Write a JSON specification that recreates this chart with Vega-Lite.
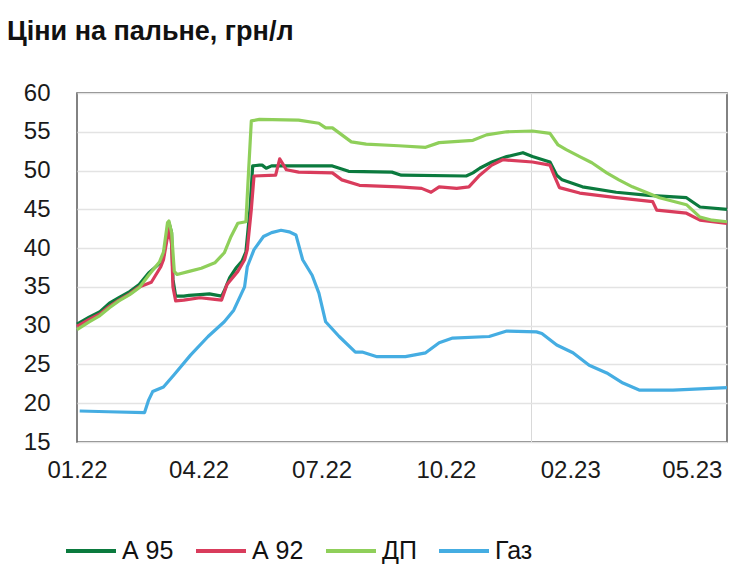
{
  "$schema": "https://vega.github.io/schema/vega-lite/v6.json",
  "description": "Ціни на пальне, грн/л",
  "autosize": {"type": "none"},
  "width": 650,
  "height": 349,
  "padding": {"left": 77, "top": 93, "right": 13, "bottom": 135},
  "background": "white",
  "config": {
    "font": "Liberation Sans",
    "view": {"stroke": "#595959", "strokeWidth": 1.5},
    "axis": {"labelFont": "Liberation Sans", "labelFontSize": 24, "labelColor": "#1a1a1a", "ticks": false, "domain": false, "title": null}
  },
  "title": {
    "text": "Ціни на пальне, грн/л",
    "anchor": "start",
    "frame": "group",
    "font": "Liberation Sans",
    "fontSize": 27,
    "fontWeight": "bold",
    "color": "#111111",
    "baseline": "alphabetic",
    "dx": -70,
    "offset": 14
  },
  "data": {
    "values": [
      {"date": "2022-01-01", "fuel": "А 95", "price": 30.2},
      {"date": "2022-01-10", "fuel": "А 95", "price": 31.1},
      {"date": "2022-01-18", "fuel": "А 95", "price": 31.8},
      {"date": "2022-01-25", "fuel": "А 95", "price": 32.9},
      {"date": "2022-02-01", "fuel": "А 95", "price": 33.6},
      {"date": "2022-02-09", "fuel": "А 95", "price": 34.4},
      {"date": "2022-02-16", "fuel": "А 95", "price": 35.3},
      {"date": "2022-02-23", "fuel": "А 95", "price": 36.8},
      {"date": "2022-03-03", "fuel": "А 95", "price": 38.0},
      {"date": "2022-03-06", "fuel": "А 95", "price": 39.0},
      {"date": "2022-03-09", "fuel": "А 95", "price": 42.0},
      {"date": "2022-03-10", "fuel": "А 95", "price": 43.3},
      {"date": "2022-03-12", "fuel": "А 95", "price": 42.0},
      {"date": "2022-03-13", "fuel": "А 95", "price": 36.0},
      {"date": "2022-03-15", "fuel": "А 95", "price": 33.8},
      {"date": "2022-03-21", "fuel": "А 95", "price": 33.8},
      {"date": "2022-03-25", "fuel": "А 95", "price": 33.9},
      {"date": "2022-04-02", "fuel": "А 95", "price": 34.0},
      {"date": "2022-04-09", "fuel": "А 95", "price": 34.1},
      {"date": "2022-04-18", "fuel": "А 95", "price": 33.8},
      {"date": "2022-04-20", "fuel": "А 95", "price": 34.5},
      {"date": "2022-04-24", "fuel": "А 95", "price": 36.2},
      {"date": "2022-04-29", "fuel": "А 95", "price": 37.5},
      {"date": "2022-05-03", "fuel": "А 95", "price": 38.3},
      {"date": "2022-05-06", "fuel": "А 95", "price": 39.5},
      {"date": "2022-05-09", "fuel": "А 95", "price": 45.0},
      {"date": "2022-05-11", "fuel": "А 95", "price": 50.6},
      {"date": "2022-05-16", "fuel": "А 95", "price": 50.7},
      {"date": "2022-05-18", "fuel": "А 95", "price": 50.7},
      {"date": "2022-05-21", "fuel": "А 95", "price": 50.3},
      {"date": "2022-05-25", "fuel": "А 95", "price": 50.6},
      {"date": "2022-06-07", "fuel": "А 95", "price": 50.6},
      {"date": "2022-06-29", "fuel": "А 95", "price": 50.6},
      {"date": "2022-07-09", "fuel": "А 95", "price": 50.6},
      {"date": "2022-07-21", "fuel": "А 95", "price": 49.9},
      {"date": "2022-08-22", "fuel": "А 95", "price": 49.8},
      {"date": "2022-08-29", "fuel": "А 95", "price": 49.4},
      {"date": "2022-10-16", "fuel": "А 95", "price": 49.3},
      {"date": "2022-10-21", "fuel": "А 95", "price": 49.7},
      {"date": "2022-10-26", "fuel": "А 95", "price": 50.3},
      {"date": "2022-11-04", "fuel": "А 95", "price": 51.1},
      {"date": "2022-11-15", "fuel": "А 95", "price": 51.8},
      {"date": "2022-11-27", "fuel": "А 95", "price": 52.3},
      {"date": "2022-12-04", "fuel": "А 95", "price": 51.8},
      {"date": "2022-12-17", "fuel": "А 95", "price": 51.1},
      {"date": "2022-12-22", "fuel": "А 95", "price": 49.4},
      {"date": "2022-12-26", "fuel": "А 95", "price": 48.8},
      {"date": "2023-01-10", "fuel": "А 95", "price": 47.9},
      {"date": "2023-02-04", "fuel": "А 95", "price": 47.2},
      {"date": "2023-02-28", "fuel": "А 95", "price": 46.8},
      {"date": "2023-03-28", "fuel": "А 95", "price": 46.5},
      {"date": "2023-04-07", "fuel": "А 95", "price": 45.3},
      {"date": "2023-04-27", "fuel": "А 95", "price": 45.0},

      {"date": "2022-01-01", "fuel": "А 92", "price": 29.9},
      {"date": "2022-01-10", "fuel": "А 92", "price": 30.8},
      {"date": "2022-01-18", "fuel": "А 92", "price": 31.5},
      {"date": "2022-01-25", "fuel": "А 92", "price": 32.5},
      {"date": "2022-02-01", "fuel": "А 92", "price": 33.3},
      {"date": "2022-02-09", "fuel": "А 92", "price": 34.1},
      {"date": "2022-02-16", "fuel": "А 92", "price": 35.0},
      {"date": "2022-02-25", "fuel": "А 92", "price": 35.6},
      {"date": "2022-03-04", "fuel": "А 92", "price": 37.6},
      {"date": "2022-03-06", "fuel": "А 92", "price": 38.5},
      {"date": "2022-03-09", "fuel": "А 92", "price": 41.5},
      {"date": "2022-03-10", "fuel": "А 92", "price": 42.5},
      {"date": "2022-03-12", "fuel": "А 92", "price": 40.5},
      {"date": "2022-03-13", "fuel": "А 92", "price": 35.0},
      {"date": "2022-03-15", "fuel": "А 92", "price": 33.2},
      {"date": "2022-03-21", "fuel": "А 92", "price": 33.3},
      {"date": "2022-04-02", "fuel": "А 92", "price": 33.6},
      {"date": "2022-04-13", "fuel": "А 92", "price": 33.4},
      {"date": "2022-04-18", "fuel": "А 92", "price": 33.3},
      {"date": "2022-04-22", "fuel": "А 92", "price": 35.3},
      {"date": "2022-04-30", "fuel": "А 92", "price": 37.0},
      {"date": "2022-05-05", "fuel": "А 92", "price": 38.5},
      {"date": "2022-05-07", "fuel": "А 92", "price": 39.8},
      {"date": "2022-05-10", "fuel": "А 92", "price": 45.0},
      {"date": "2022-05-12", "fuel": "А 92", "price": 49.3},
      {"date": "2022-05-28", "fuel": "А 92", "price": 49.4},
      {"date": "2022-05-31", "fuel": "А 92", "price": 51.5},
      {"date": "2022-06-05", "fuel": "А 92", "price": 50.1},
      {"date": "2022-06-14", "fuel": "А 92", "price": 49.8},
      {"date": "2022-07-09", "fuel": "А 92", "price": 49.7},
      {"date": "2022-07-16", "fuel": "А 92", "price": 48.8},
      {"date": "2022-07-29", "fuel": "А 92", "price": 48.1},
      {"date": "2022-08-27", "fuel": "А 92", "price": 47.9},
      {"date": "2022-09-13", "fuel": "А 92", "price": 47.7},
      {"date": "2022-09-20", "fuel": "А 92", "price": 47.2},
      {"date": "2022-09-26", "fuel": "А 92", "price": 47.9},
      {"date": "2022-10-09", "fuel": "А 92", "price": 47.7},
      {"date": "2022-10-18", "fuel": "А 92", "price": 47.9},
      {"date": "2022-10-26", "fuel": "А 92", "price": 49.4},
      {"date": "2022-11-04", "fuel": "А 92", "price": 50.7},
      {"date": "2022-11-12", "fuel": "А 92", "price": 51.4},
      {"date": "2022-12-04", "fuel": "А 92", "price": 51.1},
      {"date": "2022-12-17", "fuel": "А 92", "price": 50.7},
      {"date": "2022-12-20", "fuel": "А 92", "price": 49.4},
      {"date": "2022-12-24", "fuel": "А 92", "price": 47.8},
      {"date": "2023-01-08", "fuel": "А 92", "price": 47.1},
      {"date": "2023-02-04", "fuel": "А 92", "price": 46.5},
      {"date": "2023-03-03", "fuel": "А 92", "price": 46.0},
      {"date": "2023-03-06", "fuel": "А 92", "price": 44.9},
      {"date": "2023-03-28", "fuel": "А 92", "price": 44.5},
      {"date": "2023-04-07", "fuel": "А 92", "price": 43.6},
      {"date": "2023-04-27", "fuel": "А 92", "price": 43.2},

      {"date": "2022-01-01", "fuel": "ДП", "price": 29.5},
      {"date": "2022-01-10", "fuel": "ДП", "price": 30.5},
      {"date": "2022-01-18", "fuel": "ДП", "price": 31.3},
      {"date": "2022-01-25", "fuel": "ДП", "price": 32.3},
      {"date": "2022-02-01", "fuel": "ДП", "price": 33.2},
      {"date": "2022-02-09", "fuel": "ДП", "price": 34.0},
      {"date": "2022-02-16", "fuel": "ДП", "price": 34.9},
      {"date": "2022-02-23", "fuel": "ДП", "price": 36.5},
      {"date": "2022-03-03", "fuel": "ДП", "price": 38.2},
      {"date": "2022-03-06", "fuel": "ДП", "price": 39.5},
      {"date": "2022-03-09", "fuel": "ДП", "price": 43.3},
      {"date": "2022-03-10", "fuel": "ДП", "price": 43.5},
      {"date": "2022-03-12", "fuel": "ДП", "price": 42.0},
      {"date": "2022-03-14", "fuel": "ДП", "price": 37.0},
      {"date": "2022-03-16", "fuel": "ДП", "price": 36.6},
      {"date": "2022-03-25", "fuel": "ДП", "price": 37.0},
      {"date": "2022-04-03", "fuel": "ДП", "price": 37.4},
      {"date": "2022-04-13", "fuel": "ДП", "price": 38.1},
      {"date": "2022-04-20", "fuel": "ДП", "price": 39.4},
      {"date": "2022-04-25", "fuel": "ДП", "price": 41.5},
      {"date": "2022-04-30", "fuel": "ДП", "price": 43.2},
      {"date": "2022-05-06", "fuel": "ДП", "price": 43.4},
      {"date": "2022-05-08", "fuel": "ДП", "price": 50.0},
      {"date": "2022-05-10", "fuel": "ДП", "price": 56.4},
      {"date": "2022-05-16", "fuel": "ДП", "price": 56.6},
      {"date": "2022-06-14", "fuel": "ДП", "price": 56.5},
      {"date": "2022-06-29", "fuel": "ДП", "price": 56.1},
      {"date": "2022-07-04", "fuel": "ДП", "price": 55.5},
      {"date": "2022-07-09", "fuel": "ДП", "price": 55.5},
      {"date": "2022-07-16", "fuel": "ДП", "price": 54.6},
      {"date": "2022-07-23", "fuel": "ДП", "price": 53.7},
      {"date": "2022-08-03", "fuel": "ДП", "price": 53.4},
      {"date": "2022-08-27", "fuel": "ДП", "price": 53.2},
      {"date": "2022-09-16", "fuel": "ДП", "price": 53.0},
      {"date": "2022-09-26", "fuel": "ДП", "price": 53.6},
      {"date": "2022-10-21", "fuel": "ДП", "price": 53.9},
      {"date": "2022-10-31", "fuel": "ДП", "price": 54.6},
      {"date": "2022-11-15", "fuel": "ДП", "price": 55.0},
      {"date": "2022-12-04", "fuel": "ДП", "price": 55.1},
      {"date": "2022-12-17", "fuel": "ДП", "price": 54.8},
      {"date": "2022-12-23", "fuel": "ДП", "price": 53.3},
      {"date": "2022-12-29", "fuel": "ДП", "price": 52.7},
      {"date": "2023-01-08", "fuel": "ДП", "price": 51.8},
      {"date": "2023-01-17", "fuel": "ДП", "price": 51.0},
      {"date": "2023-01-28", "fuel": "ДП", "price": 49.7},
      {"date": "2023-02-06", "fuel": "ДП", "price": 48.8},
      {"date": "2023-02-16", "fuel": "ДП", "price": 47.9},
      {"date": "2023-02-26", "fuel": "ДП", "price": 47.2},
      {"date": "2023-03-08", "fuel": "ДП", "price": 46.5},
      {"date": "2023-03-28", "fuel": "ДП", "price": 45.6},
      {"date": "2023-04-07", "fuel": "ДП", "price": 44.0},
      {"date": "2023-04-16", "fuel": "ДП", "price": 43.6},
      {"date": "2023-04-27", "fuel": "ДП", "price": 43.4},

      {"date": "2022-01-03", "fuel": "Газ", "price": 19.0},
      {"date": "2022-01-24", "fuel": "Газ", "price": 18.9},
      {"date": "2022-02-20", "fuel": "Газ", "price": 18.8},
      {"date": "2022-02-23", "fuel": "Газ", "price": 20.4},
      {"date": "2022-02-26", "fuel": "Газ", "price": 21.5},
      {"date": "2022-03-06", "fuel": "Газ", "price": 22.1},
      {"date": "2022-03-14", "fuel": "Газ", "price": 23.7},
      {"date": "2022-03-26", "fuel": "Газ", "price": 26.2},
      {"date": "2022-04-08", "fuel": "Газ", "price": 28.6},
      {"date": "2022-04-20", "fuel": "Газ", "price": 30.5},
      {"date": "2022-04-27", "fuel": "Газ", "price": 32.0},
      {"date": "2022-05-05", "fuel": "Газ", "price": 35.0},
      {"date": "2022-05-07", "fuel": "Газ", "price": 37.6},
      {"date": "2022-05-12", "fuel": "Газ", "price": 39.8},
      {"date": "2022-05-19", "fuel": "Газ", "price": 41.5},
      {"date": "2022-05-25", "fuel": "Газ", "price": 42.0},
      {"date": "2022-06-01", "fuel": "Газ", "price": 42.3},
      {"date": "2022-06-07", "fuel": "Газ", "price": 42.1},
      {"date": "2022-06-12", "fuel": "Газ", "price": 41.7},
      {"date": "2022-06-17", "fuel": "Газ", "price": 38.5},
      {"date": "2022-06-24", "fuel": "Газ", "price": 36.5},
      {"date": "2022-06-29", "fuel": "Газ", "price": 34.2},
      {"date": "2022-07-04", "fuel": "Газ", "price": 30.5},
      {"date": "2022-07-14", "fuel": "Газ", "price": 28.6},
      {"date": "2022-07-26", "fuel": "Газ", "price": 26.6},
      {"date": "2022-07-31", "fuel": "Газ", "price": 26.6},
      {"date": "2022-08-11", "fuel": "Газ", "price": 26.0},
      {"date": "2022-09-01", "fuel": "Газ", "price": 26.0},
      {"date": "2022-09-16", "fuel": "Газ", "price": 26.5},
      {"date": "2022-09-26", "fuel": "Газ", "price": 27.8},
      {"date": "2022-10-06", "fuel": "Газ", "price": 28.4},
      {"date": "2022-11-02", "fuel": "Газ", "price": 28.6},
      {"date": "2022-11-15", "fuel": "Газ", "price": 29.3},
      {"date": "2022-12-07", "fuel": "Газ", "price": 29.2},
      {"date": "2022-12-11", "fuel": "Газ", "price": 29.0},
      {"date": "2022-12-22", "fuel": "Газ", "price": 27.5},
      {"date": "2023-01-03", "fuel": "Газ", "price": 26.5},
      {"date": "2023-01-15", "fuel": "Газ", "price": 24.9},
      {"date": "2023-01-28", "fuel": "Газ", "price": 23.9},
      {"date": "2023-02-09", "fuel": "Газ", "price": 22.6},
      {"date": "2023-02-21", "fuel": "Газ", "price": 21.7},
      {"date": "2023-03-18", "fuel": "Газ", "price": 21.7},
      {"date": "2023-04-27", "fuel": "Газ", "price": 22.0}
    ]
  },
  "mark": {"type": "line", "strokeWidth": 3.2, "strokeJoin": "round"},
  "encoding": {
    "x": {
      "field": "date",
      "type": "temporal",
      "scale": {
        "type": "utc",
        "nice": false,
        "domain": [1640995200000, 1682553600000]
      },
      "axis": {
        "values": [1640995200000, 1648771200000, 1656633600000, 1664582400000, 1670025600000, 1672531200000, 1680307200000],
        "labelExpr": "time(datum.value) == 1670025600000 ? '' : utcFormat(time(datum.value) + (utcyear(datum.value) > 2022 ? 2678400000 : 0), '%m.%y')",
        "grid": true,
        "gridColor": "#d9d9d9",
        "gridWidth": 1,
        "gridOpacity": {"condition": {"test": "time(datum.value) == 1670025600000", "value": 1}, "value": 0},
        "labelPadding": 16,
        "labelFlush": false,
        "labelOverlap": false
      }
    },
    "y": {
      "field": "price",
      "type": "quantitative",
      "scale": {"domain": [15, 60], "nice": false, "zero": false},
      "axis": {
        "values": [15, 20, 25, 30, 35, 40, 45, 50, 55, 60],
        "grid": true,
        "gridColor": "#e3e3e3",
        "gridWidth": 1.5,
        "labelPadding": 27
      }
    },
    "color": {
      "field": "fuel",
      "type": "nominal",
      "scale": {
        "domain": ["А 95", "А 92", "ДП", "Газ"],
        "range": ["#0b7a3e", "#d93c5c", "#8fcf5a", "#45ade2"]
      },
      "legend": {
        "title": null,
        "orient": "none",
        "direction": "horizontal",
        "columns": 4,
        "legendX": -13,
        "legendY": 431,
        "padding": 0,
        "symbolType": "stroke",
        "symbolSize": 2500,
        "symbolStrokeWidth": 4,
        "labelFont": "Liberation Sans",
        "labelFontSize": 25,
        "labelColor": "#111111",
        "labelOffset": 4,
        "columnPadding": 14
      }
    }
  }
}
